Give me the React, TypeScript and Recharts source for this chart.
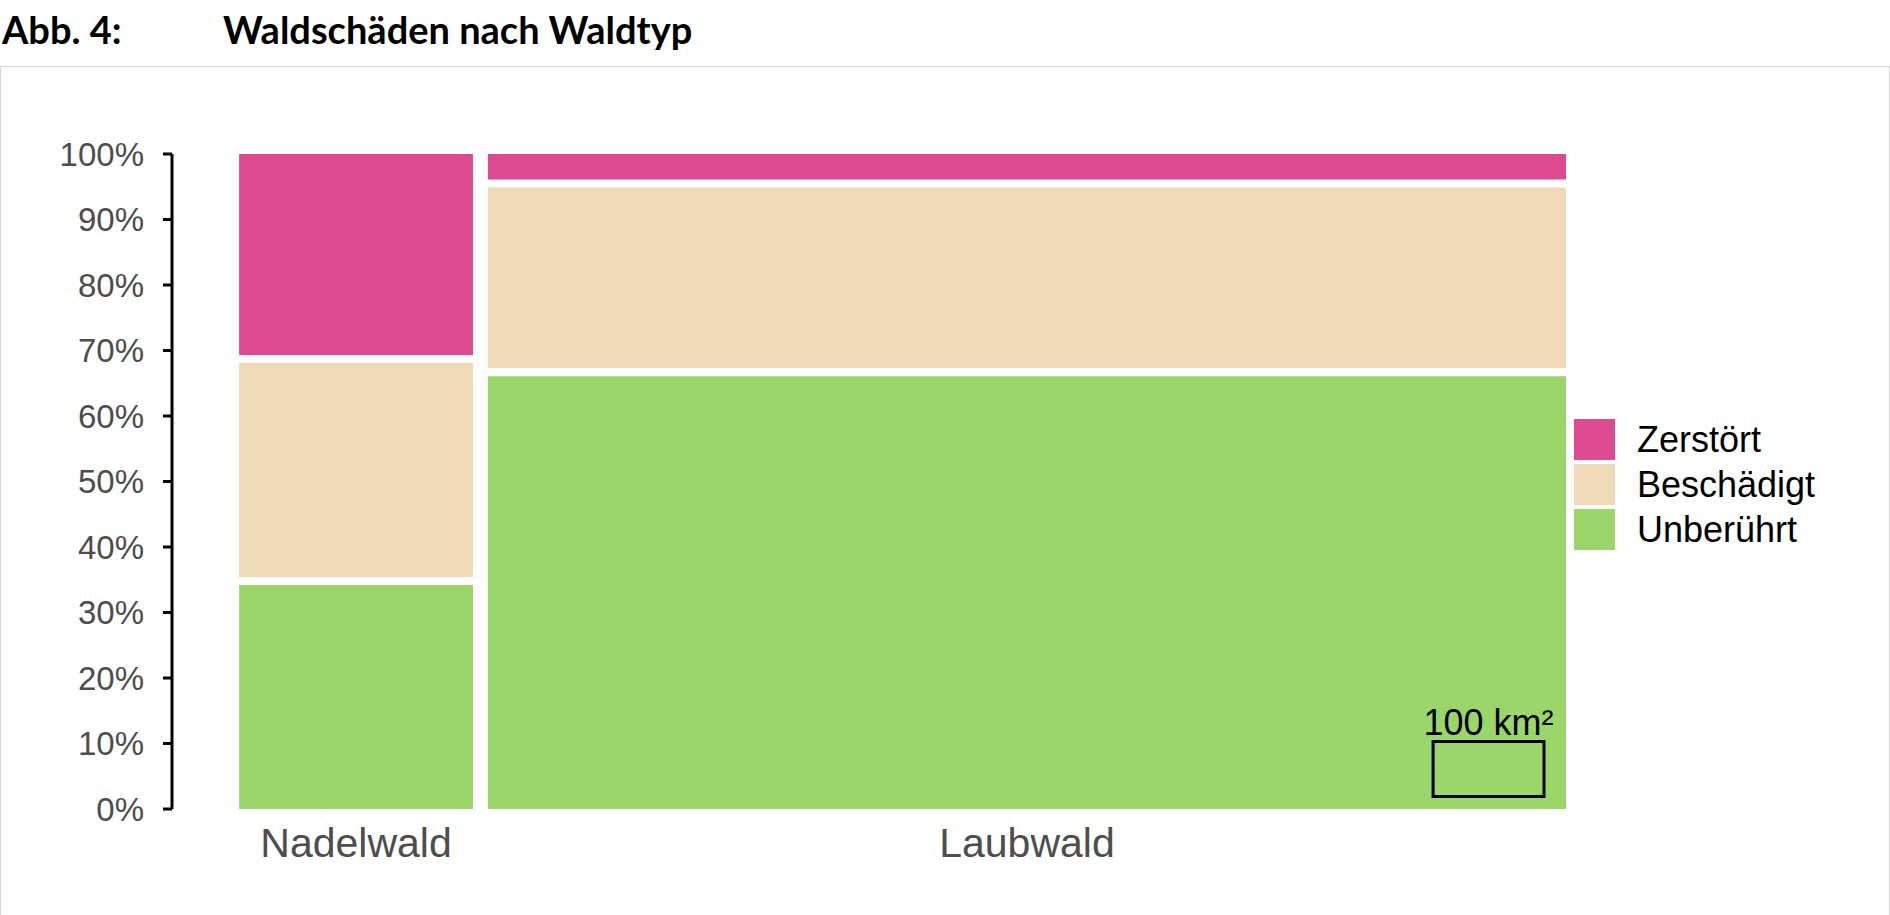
import React from 'react';
import { ComposedChart, XAxis, YAxis, ReferenceArea, Legend } from 'recharts';

// ---- data ----
const categories = ['Nadelwald', 'Laubwald'];
const areaKm2 = [2510, 11570];
const unberuehrt = [34.8, 66.7];
const beschaedigt = [33.9, 28.8];
const zerstoert = [31.3, 4.5];
const seriesNames = ['Unberührt', 'Beschädigt', 'Zerstört'];
const seriesColors = ['#9BD66A', '#EFD9B7', '#DD4A91'];
const yTicks = [0, 10, 20, 30, 40, 50, 60, 70, 80, 90, 100];
const scaleArea = 100;
const scaleLabel = '100 km²';

// ---- layout constants (data units) ----
const COL_GAP = 160;
const LEFT_PAD = 720;
const HALF_GAP = 0.62; // % units
const SCALE_H = 8.4; // % height of the scale box
const SCALE_RIGHT_INSET = 236;
const SCALE_BOTTOM = 1.9;

const seriesValues = [unberuehrt, beschaedigt, zerstoert];

const starts: number[] = [];
{
  let acc = 0;
  areaKm2.forEach((a, i) => {
    starts.push(acc);
    acc += a + (i < areaKm2.length - 1 ? COL_GAP : 0);
  });
}
const xMax = starts[starts.length - 1] + areaKm2[areaKm2.length - 1];
const centers = categories.map((_, i) => starts[i] + areaKm2[i] / 2);

const rows = categories.map((c, i) => ({ name: c, center: centers[i], y: 50 }));

const cells: { key: string; x1: number; x2: number; y1: number; y2: number; fill: string }[] = [];
categories.forEach((c, i) => {
  let low = 0;
  seriesValues.forEach((vals, s) => {
    const high = low + vals[i];
    cells.push({
      key: `${c}-${s}`,
      x1: starts[i],
      x2: starts[i] + areaKm2[i],
      y1: low > 0.001 ? low + HALF_GAP : 0,
      y2: high < 99.9 ? high - HALF_GAP : 100,
      fill: seriesColors[s],
    });
    low = high;
  });
});

const scaleW = (scaleArea * 100) / SCALE_H;
const scaleX2 = xMax - SCALE_RIGHT_INSET;
const scaleX1 = scaleX2 - scaleW;

const FONT = '"Liberation Sans", Arial, sans-serif';

const LegendContent = () => (
  <div style={{ fontFamily: FONT }}>
    {[2, 1, 0].map((s) => (
      <div key={s} style={{ display: 'flex', alignItems: 'center', height: 41, marginBottom: 4 }}>
        <div style={{ width: 41, height: 41, background: seriesColors[s] }} />
        <span style={{ marginLeft: 22, fontSize: 36, color: '#000', lineHeight: '41px' }}>{seriesNames[s]}</span>
      </div>
    ))}
  </div>
);

const titleStyle: React.CSSProperties = {
  position: 'absolute',
  top: 10,
  fontFamily: 'Lato',
  fontWeight: 700,
  fontSize: 38,
  lineHeight: '38px',
  color: '#000',
  whiteSpace: 'nowrap',
};

export default function App() {
  return (
    <div style={{ position: 'absolute', left: 0, top: 0, width: 1890, height: 915, background: '#fff', overflow: 'hidden' }}>
      <div style={{ ...titleStyle, left: 2 }}>Abb. 4:</div>
      <div style={{ ...titleStyle, left: 223 }}>Waldschäden nach Waldtyp</div>
      <div style={{ position: 'absolute', left: 0, top: 66, width: 1888, height: 900, border: '1px solid #d6d6d6' }} />
      <div style={{ position: 'absolute', left: 0, top: 0 }}>
        <ComposedChart width={1890} height={915} data={rows} margin={{ top: 154, right: 324, bottom: 46, left: 0 }}>
          <XAxis
            type="number"
            dataKey="center"
            domain={[-LEFT_PAD, xMax]}
            allowDataOverflow
            ticks={centers}
            tickFormatter={(v: number) => categories[centers.findIndex((c) => Math.abs(c - v) < 1)] ?? ''}
            axisLine={false}
            tickLine={false}
            tickSize={0}
            tickMargin={19}
            height={60}
            tick={{ fontSize: 41, fill: '#4d4d4d', fontFamily: FONT }}
            interval={0}
          />
          <YAxis
            type="number"
            dataKey="y"
            domain={[0, 100]}
            allowDataOverflow
            ticks={yTicks}
            tickFormatter={(v: number) => `${v}%`}
            width={172}
            axisLine={{ stroke: '#000', strokeWidth: 3 }}
            tickLine={{ stroke: '#000', strokeWidth: 3 }}
            tickSize={9}
            tickMargin={19}
            tick={{ fontSize: 33, fill: '#4d4d4d', fontFamily: FONT }}
            interval={0}
          />
          {cells.map((c) => (
            <ReferenceArea
              key={c.key}
              x1={c.x1}
              x2={c.x2}
              y1={c.y1}
              y2={c.y2}
              fill={c.fill}
              fillOpacity={1}
              stroke="none"
              ifOverflow="visible"
            />
          ))}
          <ReferenceArea
            x1={scaleX1}
            x2={scaleX2}
            y1={SCALE_BOTTOM}
            y2={SCALE_BOTTOM + SCALE_H}
            fill="none"
            fillOpacity={0}
            stroke="#000"
            strokeWidth={3}
            ifOverflow="visible"
            label={{ value: scaleLabel, position: 'top', offset: 7, fontSize: 36, fill: '#000', fontFamily: FONT }}
          />
          <Legend
            layout="vertical"
            align="center"
            verticalAlign="middle"
            content={<LegendContent />}
            wrapperStyle={{ left: 1574, top: 419, width: 300, height: 135 }}
          />
        </ComposedChart>
      </div>
    </div>
  );
}
